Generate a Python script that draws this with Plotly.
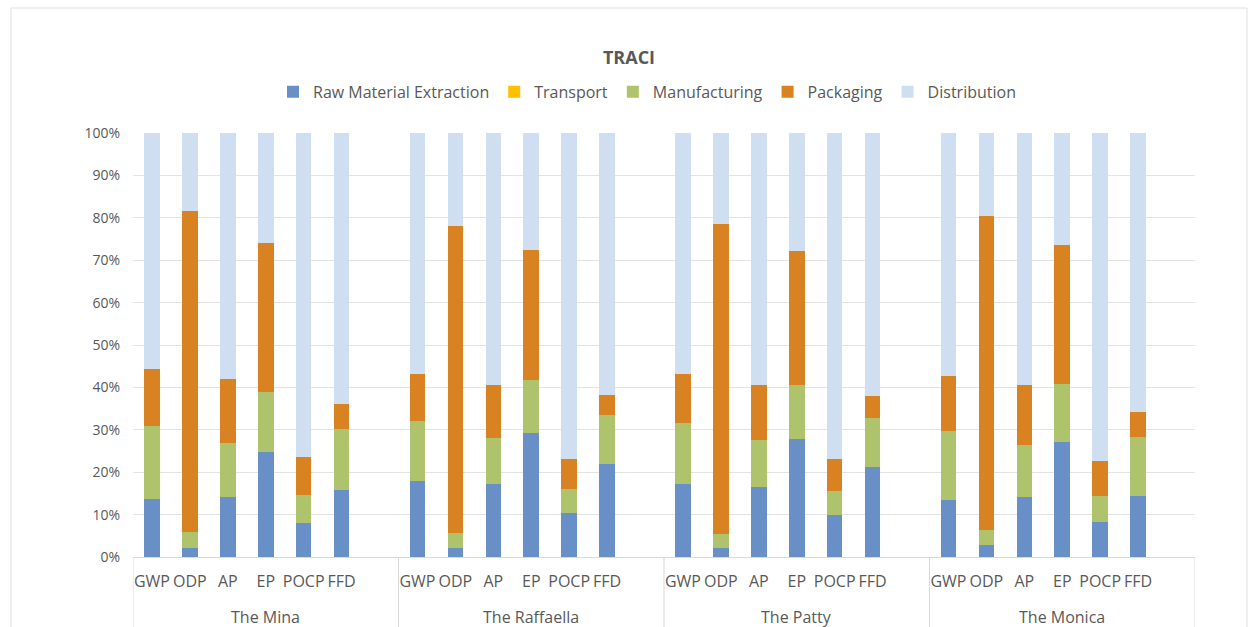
import plotly.graph_objects as go

# Products and TRACI impact indicators
products = ["The Mina", "The Raffaella", "The Patty", "The Monica"]
indicators = ["GWP", "ODP", "AP", "EP", "POCP", "FFD"]

# Share (%) of each life-cycle stage, per product, per indicator (GWP..FFD)
raw_material = {
    "The Mina":      [13.6, 2.2, 14.1, 24.7, 8.0, 15.7],
    "The Raffaella": [18.0, 2.2, 17.3, 29.2, 10.4, 21.9],
    "The Patty":     [17.2, 2.1, 16.5, 27.8, 9.9, 21.2],
    "The Monica":    [13.5, 2.8, 14.2, 27.2, 8.2, 14.5],
}
transport = {
    "The Mina":      [0.0, 0.0, 0.0, 0.0, 0.0, 0.0],
    "The Raffaella": [0.0, 0.0, 0.0, 0.0, 0.0, 0.0],
    "The Patty":     [0.0, 0.0, 0.0, 0.0, 0.0, 0.0],
    "The Monica":    [0.0, 0.0, 0.0, 0.0, 0.0, 0.0],
}
manufacturing = {
    "The Mina":      [17.3, 3.6, 12.7, 14.2, 6.7, 14.5],
    "The Raffaella": [14.1, 3.4, 10.7, 12.5, 5.6, 11.5],
    "The Patty":     [14.5, 3.3, 11.1, 12.8, 5.7, 11.7],
    "The Monica":    [16.3, 3.5, 12.1, 13.5, 6.3, 13.8],
}
packaging = {
    "The Mina":      [13.4, 75.7, 15.2, 35.2, 8.8, 6.0],
    "The Raffaella": [11.0, 72.5, 12.6, 30.6, 7.1, 4.7],
    "The Patty":     [11.4, 73.2, 13.0, 31.5, 7.4, 5.0],
    "The Monica":    [12.8, 74.1, 14.3, 32.9, 8.1, 5.8],
}
distribution = {
    "The Mina":      [55.7, 18.5, 58.0, 25.9, 76.5, 63.8],
    "The Raffaella": [56.9, 21.9, 59.4, 27.7, 76.9, 61.9],
    "The Patty":     [56.9, 21.4, 59.4, 27.9, 77.0, 62.1],
    "The Monica":    [57.4, 19.6, 59.4, 26.4, 77.4, 65.9],
}

stages = [
    ("Raw Material Extraction", raw_material, "#6890C6"),
    ("Transport", transport, "#FFC000"),
    ("Manufacturing", manufacturing, "#AEC36B"),
    ("Packaging", packaging, "#D98221"),
    ("Distribution", distribution, "#D0DEF2"),
]

GREY = "#595959"
LINE = "#D9D9D9"
FONT = "Open Sans"

# Each product group takes one slot per indicator plus one empty slot
slots = len(indicators) + 1
xpos, xtext = [], []
for g, p in enumerate(products):
    for i, ind in enumerate(indicators):
        xpos.append(g * slots + i)
        xtext.append(ind)

fig = go.Figure()
for name, data, color in stages:
    y = []
    for p in products:
        y += data[p]
    fig.add_trace(go.Bar(
        x=xpos, y=y, name=name,
        marker=dict(color=color, line=dict(width=0)),
    ))

n_slots = slots * len(products)
fig.update_layout(
    width=1248, height=627,
    barmode="stack", barnorm="percent", bargap=0.59,
    paper_bgcolor="white", plot_bgcolor="white",
    margin=dict(l=133, r=53, t=133, b=70),
    font=dict(family=FONT, color=GREY),
    title=dict(text="<b>TRACI</b>", x=629 / 1248, xanchor="center",
               y=1 - 58 / 627, yanchor="middle", yref="container",
               font=dict(size=18, color=GREY, family=FONT)),
    legend=dict(orientation="h", x=0.484, xanchor="center", y=1.097,
                yanchor="middle", font=dict(size=16, color=GREY),
                traceorder="normal"),
    showlegend=True,
)
fig.update_yaxes(
    range=[0, 100], dtick=10, ticksuffix="%", showgrid=True,
    gridcolor="#E3E3E3", gridwidth=1, zeroline=False, showline=False,
    tickfont=dict(size=14, color=GREY), ticks="", ticklabelstandoff=12,
    automargin=False,
)
fig.update_xaxes(
    range=[-0.5, n_slots - 0.5], tickmode="array", tickvals=xpos,
    ticktext=xtext, tickangle=0, tickfont=dict(size=16, color=GREY),
    ticks="outside", ticklen=10, tickcolor="rgba(0,0,0,0)",
    showline=True, linecolor=LINE, linewidth=1, showgrid=False,
    zeroline=False, automargin=False,
)

# Product names under each group, with separators between groups
for g, p in enumerate(products):
    fig.add_annotation(
        x=g * slots + (slots - 1) / 2, xref="x",
        y=(557 - 617) / 424, yref="paper", yanchor="middle",
        text=p, showarrow=False, font=dict(size=16, color=GREY),
    )
for g in range(len(products) + 1):
    fig.add_shape(type="line", xref="x", yref="paper",
                  x0=g * slots - 0.5, x1=g * slots - 0.5,
                  y0=0, y1=(557 - 640) / 424,
                  line=dict(color=LINE, width=1))

# Light frame around the chart area
fig.add_shape(type="rect", xref="paper", yref="paper",
              x0=(11 - 133) / 1062, x1=(1247 - 133) / 1062,
              y0=(557 - 640) / 424, y1=(557 - 8) / 424,
              line=dict(color="#E0E0E0", width=1), layer="below")

fig.write_html("out.html")
